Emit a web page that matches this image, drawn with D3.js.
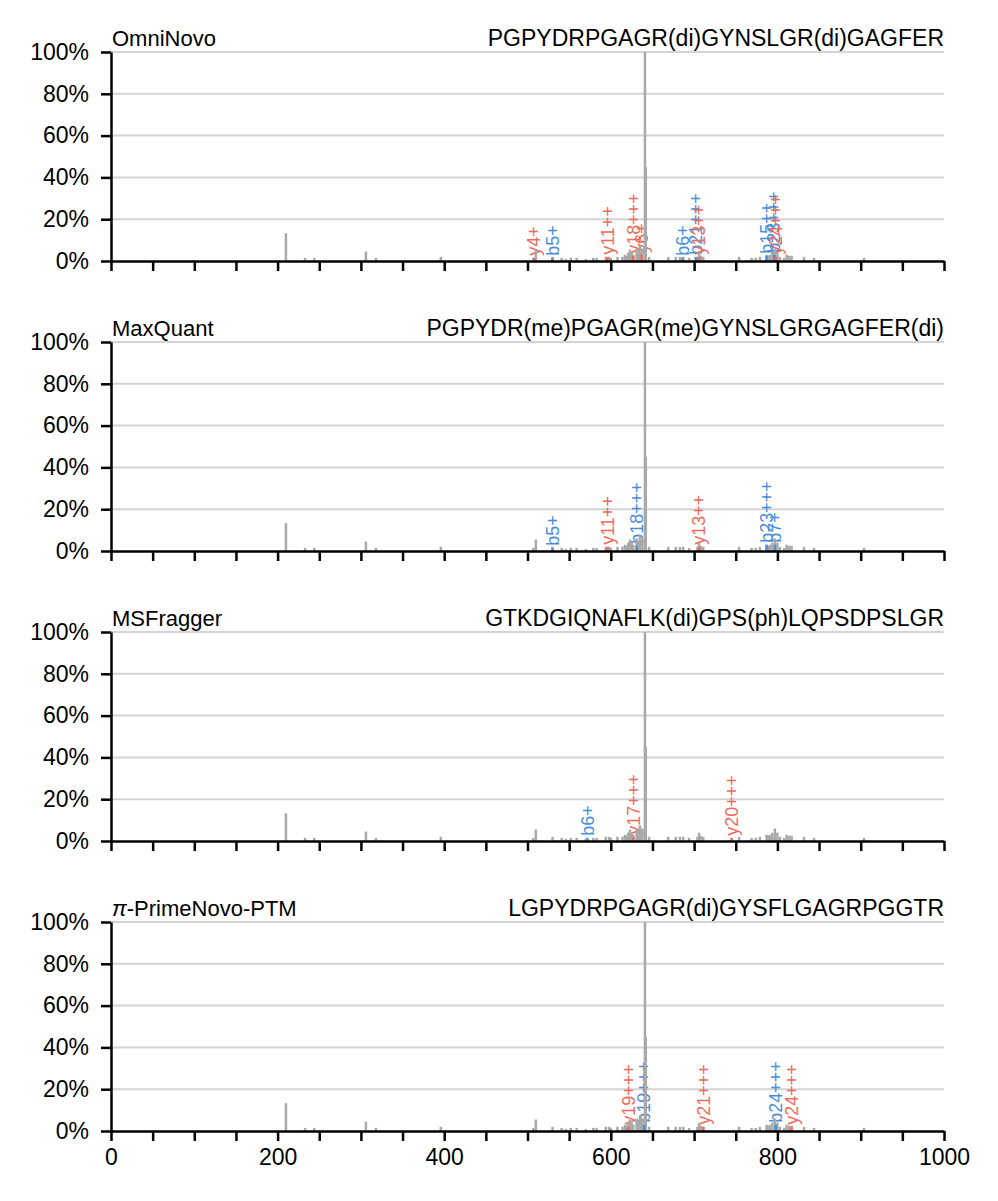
<!DOCTYPE html>
<html>
<head>
<meta charset="utf-8">
<script src="https://cdn.jsdelivr.net/npm/d3@7"></script>
<style>
  body { margin: 0; background: #fff; }
  svg text { font-family: "Liberation Sans", Arial, sans-serif; }
</style>
</head>
<body>
<svg width="998" height="1201"></svg>
<script>
// spectrum peaks (same spectrum in every panel)
const peakMz = [210, 233, 244, 306, 318, 396, 507, 510, 530, 541, 546, 552, 559, 570, 579, 583,
  594, 598, 600, 608, 614, 617, 619, 621, 623, 625, 627, 631, 633, 635, 637, 638, 641, 642, 646,
  669, 678, 683, 687, 694, 704, 706, 708, 711, 754, 769, 774, 779, 787, 789, 791, 794, 797, 800,
  803, 808, 811, 814, 817, 832, 844, 904];
const peakInt = [13.3, 1.5, 1.5, 4.5, 1.5, 2, 1.5, 5.5, 2, 1.5, 1, 1.5, 1.5, 1, 1.5, 1.5,
  2, 2, 1.5, 2, 2, 3, 2.5, 4, 5.5, 4, 3, 6, 5, 7.5, 4, 6, 100, 45, 2,
  2, 2, 2, 2, 1.5, 2, 4, 2.5, 2, 2, 1.5, 1.5, 2, 3, 2.5, 3, 4, 6, 4,
  2, 1.5, 3, 2.5, 2.5, 2, 1.5, 1.5];

const panelNames = ["OmniNovo", "MaxQuant", "MSFragger", "-PrimeNovo-PTM"];
const sequences = [
  "PGPYDRPGAGR(di)GYNSLGR(di)GAGFER",
  "PGPYDR(me)PGAGR(me)GYNSLGRGAGFER(di)",
  "GTKDGIQNAFLK(di)GPS(ph)LQPSDPSLGR",
  "LGPYDRPGAGR(di)GYSFLGAGRPGGTR"
];

// matched fragment ions per panel
const ionLabels = [
  ["y4+", "b5+", "y11++", "y18+++", "y6+", "b6+", "b21+++", "y13++", "b15++", "b23+++", "y24+++"],
  ["b5+", "y11++", "b18+++", "y13++", "b23+++", "b7+"],
  ["b6+", "y17+++", "y20+++"],
  ["y19+++", "b19+++", "y21+++", "b24+++", "y24+++"]
];
const ionMz = [
  [508, 530, 596, 627, 637, 686, 702, 706, 787, 796, 798],
  [530, 596, 631, 706, 787, 797],
  [572, 627, 745],
  [621, 640, 711, 798, 817]
];
const ionInt = [
  [1.5, 1.5, 2, 2.5, 3, 1.5, 2, 2, 2.5, 3, 2],
  [1.5, 2, 2.5, 2, 3, 3],
  [1.5, 2, 1.5],
  [2, 3, 2, 3, 2]
];

const xTicks = d3.range(0, 1001, 50);
const yTicks = [0, 20, 40, 60, 80, 100];

const svg = d3.select("svg");
const left = 111, right = 944;
const panelH = 209, firstTop = 52, step = 290;
const grey = "#a9a9a9", red = "#ee6b5e", blue = "#4a8fd8";

const x = d3.scaleLinear().domain([0, 1000]).range([left, right]);
const peaks = peakMz.map((m, i) => ({mz: m, v: peakInt[i]}));

panelNames.forEach((name, p) => {
  const top = firstTop + p * step;
  const bottom = top + panelH;
  const y = d3.scaleLinear().domain([0, 100]).range([bottom, top]);
  const g = svg.append("g");

  // grid
  g.selectAll(".grid").data(yTicks.slice(1)).join("line")
    .attr("x1", left).attr("x2", right)
    .attr("y1", d => y(d)).attr("y2", d => y(d))
    .attr("stroke", "#d4d4d4").attr("stroke-width", 2);

  const ions = ionLabels[p].map((l, i) => ({label: l, mz: ionMz[p][i], v: ionInt[p][i]}));
  const ionColor = d => d.label[0] === "y" ? red : blue;

  // ion labels sit under the peaks
  g.append("g").selectAll("text").data(ions).join("text")
    .attr("transform", d => `translate(${x(d.mz)},${y(d.v) - 2}) rotate(-90)`)
    .attr("dy", "0.35em")
    .attr("font-size", 18)
    .attr("fill", ionColor)
    .text(d => d.label);

  // gray peaks
  g.append("g").selectAll("rect").data(peaks).join("rect")
    .attr("x", d => x(d.mz) - 1.25)
    .attr("width", 2.5)
    .attr("y", d => y(d.v))
    .attr("height", d => bottom - y(d.v))
    .attr("fill", grey);

  // matched peaks
  g.append("g").selectAll("rect").data(ions).join("rect")
    .attr("x", d => x(d.mz) - 1.25)
    .attr("width", 2.5)
    .attr("y", d => y(d.v))
    .attr("height", d => bottom - y(d.v))
    .attr("fill", ionColor);

  // axes
  const yAxis = g.append("g")
    .attr("transform", `translate(${left},0)`)
    .call(d3.axisLeft(y).tickValues(yTicks).tickFormat(d => d + "%")
      .tickSize(10).tickSizeOuter(0).tickPadding(12));
  const xAxis = g.append("g")
    .attr("transform", `translate(0,${bottom})`)
    .call(d3.axisBottom(x).tickValues(xTicks)
      .tickFormat(d => (p === 3 && d % 200 === 0) ? d : "")
      .tickSize(10).tickSizeOuter(0).tickPadding(8));
  [yAxis, xAxis].forEach(a => {
    a.select(".domain").attr("stroke", "#000").attr("stroke-width", 2.5);
    a.selectAll(".tick line").attr("stroke", "#000").attr("stroke-width", 2.5);
    a.selectAll("text").attr("font-size", 23).attr("fill", "#000")
      .attr("font-family", "Liberation Sans, Arial, sans-serif");
  });

  // titles
  const t = g.append("text")
    .attr("x", left + 1).attr("y", top - 6)
    .attr("font-size", 22).attr("fill", "#000");
  if (p === 3) {
    t.append("tspan").attr("font-style", "italic").text("π");
  }
  t.append("tspan").text(name);

  g.append("text")
    .attr("x", right).attr("y", top - 6)
    .attr("text-anchor", "end")
    .attr("font-size", 23).attr("fill", "#000")
    .text(sequences[p]);
});
</script>
</body>
</html>
